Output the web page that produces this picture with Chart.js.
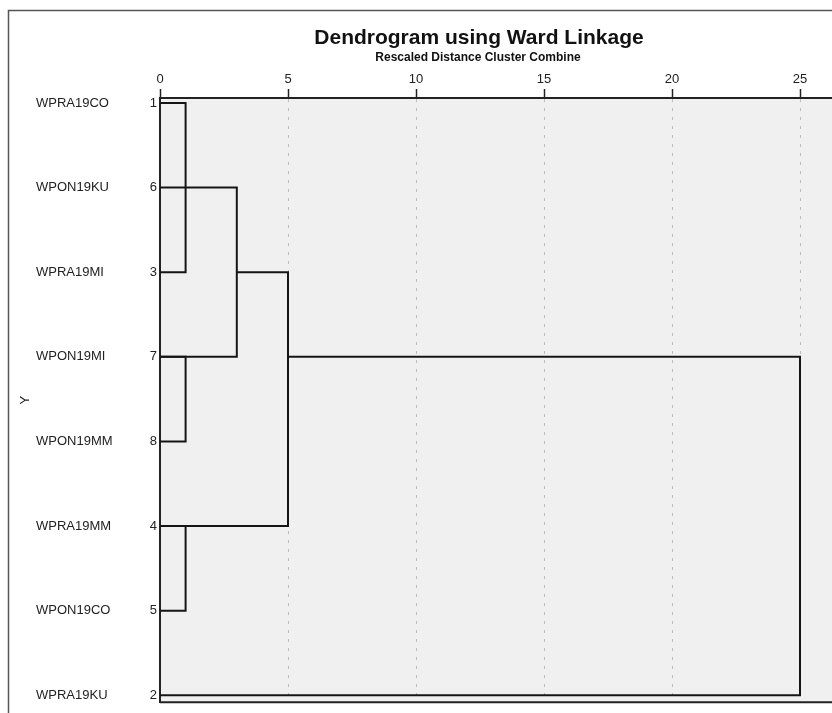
<!DOCTYPE html>
<html>
<head>
<meta charset="utf-8">
<script src="https://cdn.jsdelivr.net/npm/chart.js@4"></script>
<style>
html,body{margin:0;padding:0;background:#fff;}
#wrap{width:832px;height:713px;position:relative;}
</style>
</head>
<body>
<div id="wrap"><canvas id="c" width="832" height="713"></canvas></div>
<script>
// ---- data ----
const chartTitle = 'Dendrogram using Ward Linkage';
const chartSubtitle = 'Rescaled Distance Cluster Combine';
const yAxisTitle = 'Y';
const leafNames = ['WPRA19CO','WPON19KU','WPRA19MI','WPON19MI','WPON19MM','WPRA19MM','WPON19CO','WPRA19KU'];
const leafIds = [1, 6, 3, 7, 8, 4, 5, 2];
const distanceTicks = [0, 5, 10, 15, 20, 25];
// merges (row indices refer to leaf order above)
const mergeDistance   = [1, 1, 1, 3, 5, 25];
const mergeTopRow     = [0, 3, 5, 1, 2, 3];
const mergeTopStart   = [0, 0, 0, 0, 3, 5];
const mergeBottomRow  = [2, 4, 6, 3, 5, 7];
const mergeBottomStart= [0, 0, 0, 0, 0, 0];

const FONT = "'Liberation Sans', Arial, sans-serif";
const rowIdx = leafIds.map((_, i) => i);

const datasets = mergeDistance.map((d, i) => ({
  data: [
    {x: mergeTopStart[i], y: mergeTopRow[i]},
    {x: d, y: mergeTopRow[i]},
    {x: d, y: mergeBottomRow[i]},
    {x: mergeBottomStart[i], y: mergeBottomRow[i]}
  ],
  showLine: true,
  borderColor: '#151515',
  borderWidth: 2,
  pointRadius: 0,
  pointHoverRadius: 0,
  tension: 0,
  fill: false
}));

const yMin = -0.0584, yMax = 7.0816;

const decor = {
  id: 'decor',
  beforeDraw(chart) {
    const {ctx, chartArea: a} = chart;
    ctx.save();
    ctx.fillStyle = '#ffffff';
    ctx.fillRect(0, 0, chart.width, chart.height);
    ctx.fillStyle = '#f0f0f0';
    ctx.fillRect(a.left, a.top, a.right - a.left, a.bottom - a.top);
    ctx.restore();
  },
  afterDraw(chart) {
    const {ctx, chartArea: a} = chart;
    ctx.save();
    // plot bottom border
    ctx.strokeStyle = '#222';
    ctx.lineWidth = 2;
    ctx.beginPath();
    ctx.moveTo(a.left, a.bottom);
    ctx.lineTo(a.right, a.bottom);
    ctx.stroke();
    // outer frame
    ctx.strokeStyle = '#555';
    ctx.lineWidth = 1.5;
    ctx.beginPath();
    ctx.moveTo(8.5, chart.height);
    ctx.lineTo(8.5, 10.5);
    ctx.lineTo(chart.width, 10.5);
    ctx.stroke();
    // titles
    ctx.fillStyle = '#111';
    ctx.textAlign = 'center';
    ctx.textBaseline = 'middle';
    ctx.font = 'bold 21px ' + FONT;
    ctx.fillText(chartTitle, 479, 38);
    ctx.font = 'bold 12px ' + FONT;
    ctx.fillText(chartSubtitle, 478, 58);
    ctx.restore();
  }
};

new Chart(document.getElementById('c'), {
  type: 'scatter',
  data: { datasets },
  options: {
    responsive: false,
    animation: false,
    events: [],
    layout: { padding: { left: 10, top: 10, right: 0, bottom: 4 } },
    plugins: { legend: { display: false }, tooltip: { enabled: false }, title: { display: false } },
    scales: {
      x: {
        type: 'linear',
        position: 'top',
        min: 0,
        max: 26.25,
        afterBuildTicks: ax => { ax.ticks = distanceTicks.map(v => ({value: v})); },
        afterFit: ax => { ax.height = 88; },
        ticks: { font: { family: FONT, size: 13 }, color: '#222', padding: 2, maxRotation: 0, autoSkip: false },
        grid: {
          color: c => (c.tick && c.tick.value === 0) ? 'rgba(0,0,0,0)' : '#bdbdbd',
          lineWidth: 1,
          tickColor: '#222',
          tickLength: 9,
          tickWidth: 1.5
        },
        border: { color: '#222', width: 2, dash: [3, 6] }
      },
      y: {
        type: 'linear',
        position: 'left',
        reverse: true,
        min: yMin,
        max: yMax,
        weight: 0,
        afterBuildTicks: ax => { ax.ticks = rowIdx.map(v => ({value: v})); },
        afterFit: ax => { ax.width = 40; },
        ticks: {
          callback: v => leafIds[v],
          font: { family: FONT, size: 13 },
          color: '#222',
          padding: 3,
          crossAlign: 'near',
          autoSkip: false
        },
        grid: { display: false, drawTicks: false },
        border: { display: true, color: '#222', width: 2 }
      },
      yNames: {
        type: 'linear',
        position: 'left',
        reverse: true,
        min: yMin,
        max: yMax,
        weight: 10,
        afterBuildTicks: ax => { ax.ticks = rowIdx.map(v => ({value: v})); },
        afterFit: ax => { ax.width = 84; },
        ticks: {
          callback: v => leafNames[v],
          font: { family: FONT, size: 13 },
          color: '#222',
          padding: 0,
          crossAlign: 'far',
          autoSkip: false
        },
        grid: { display: false, drawTicks: false },
        border: { display: false }
      },
      yTitle: {
        type: 'linear',
        position: 'left',
        min: 0,
        max: 1,
        weight: 20,
        afterFit: ax => { ax.width = 26; },
        ticks: { display: false },
        grid: { display: false, drawTicks: false },
        border: { display: false },
        title: { display: true, text: yAxisTitle, font: { family: FONT, size: 13 }, color: '#222', padding: { top: 8, bottom: 0 } }
      }
    }
  },
  plugins: [decor]
});
</script>
</body>
</html>
